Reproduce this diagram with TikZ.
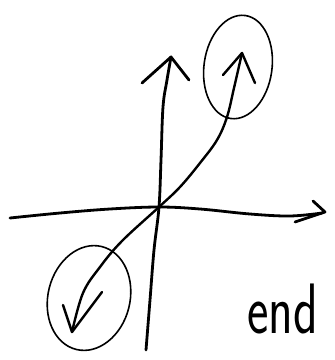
\documentclass[tikz,border=0pt]{standalone}
\usetikzlibrary{calc}
\tikzset{
  pen/.style={line width=2.8pt,line cap=round,line join=round},
  penmid/.style={line width=2.4pt,line cap=round,line join=round},
  loop/.style={line width=1.6pt},
}
\begin{document}
\begin{tikzpicture}[x=1pt,y=-1pt]
\useasboundingbox (0,0) rectangle (335,360);
% key points
\coordinate (O) at (159,207);
\coordinate (xtip) at (325,212);
\coordinate (ytip) at (171,57);
\coordinate (dtip) at (242,53);
\coordinate (ltip) at (72,332);
% horizontal axis
\draw[pen] plot[smooth,tension=0.6] coordinates {(10,218) (60,213) (110,209) (O) (200,209) (250,214) (290,216) (322,213)};
\draw[pen] (313,201) -- (xtip) -- (295,222);
% vertical axis
\draw[pen] plot[smooth,tension=0.6] coordinates {(146,350) (150,300) (154,250) (O) (161,160) (163,107) (167,80) (ytip)};
\draw[pen] (142,83) -- (ytip) -- (189,80);
% diagonal curve
\draw[penmid] plot[smooth,tension=0.6] coordinates {(ltip) (83,293) (100,267) (122,241) (O) (180,187) (200,163) (217,140) (227,117) (234,88) (dtip)};
\draw[penmid] (223,75) -- (dtip) -- (255,83);
\draw[penmid] (63,305) -- (ltip) -- (102,292);
% loops
\draw[loop] (238,67) ellipse[x radius=34,y radius=52,rotate=-8];
\draw[loop] (89,298) ellipse[x radius=41,y radius=53,rotate=-14];
% label
\node[anchor=base west,inner sep=0pt] (lbl) at (247,333) {\scalebox{1}[1.4]{\sffamily\fontsize{51}{51}\selectfont end}};
\end{tikzpicture}
\end{document}
